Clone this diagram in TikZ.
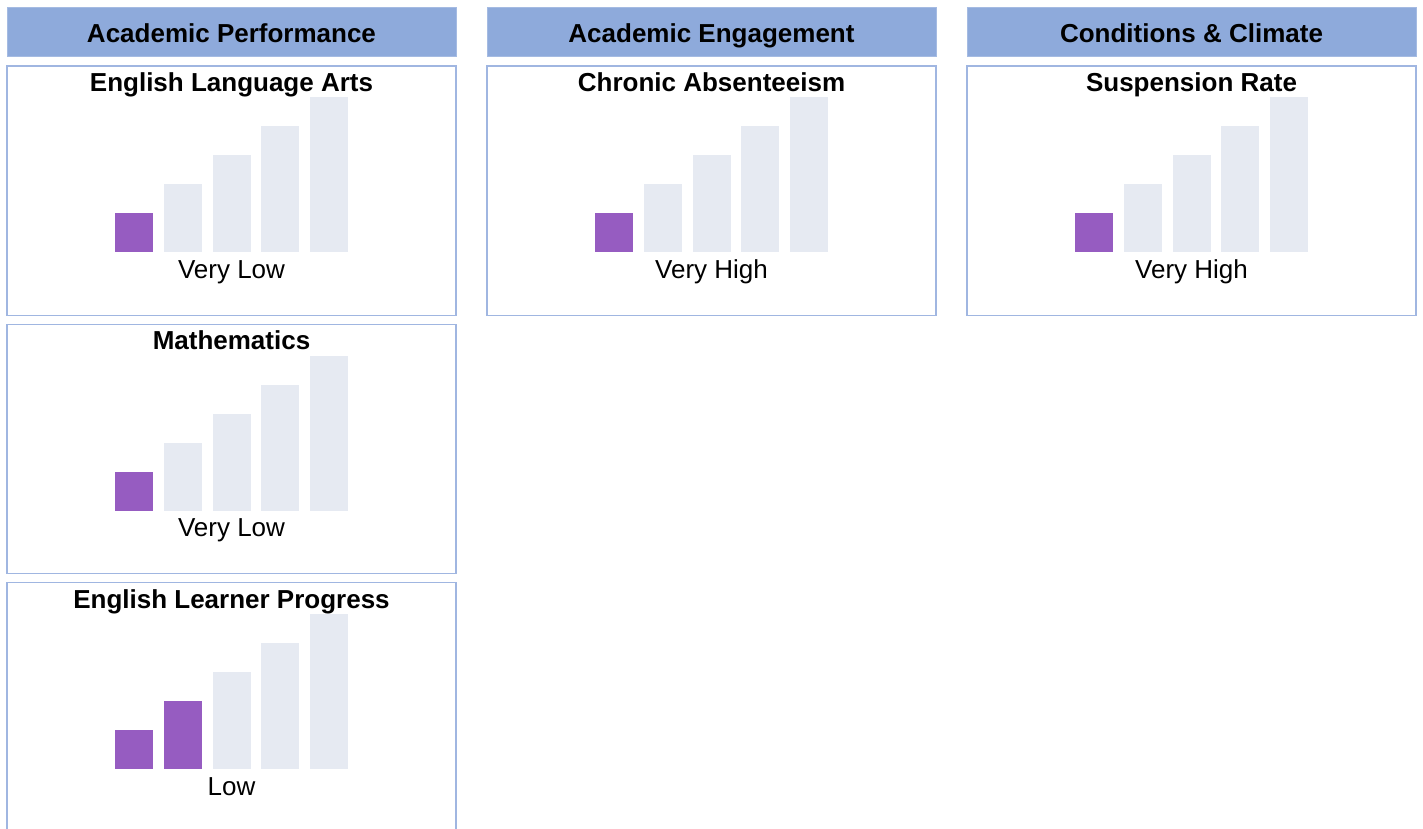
\documentclass[tikz,border=0pt]{standalone}
\usepackage{fontspec}
\setmainfont{Liberation Sans}
\usetikzlibrary{calc,positioning}
\definecolor{hdrblue}{HTML}{8EAADB}
\definecolor{edgeblue}{HTML}{A0B6E1}
\definecolor{lvlpurple}{HTML}{965CC1}
\definecolor{lvlgrey}{HTML}{E6EAF2}
\tikzset{
  header/.style={fill=hdrblue, draw=hdrblue!80, line width=1pt, minimum width=449pt,
    minimum height=49pt, inner sep=0pt, text height=21pt, text depth=0pt,
    font=\fontsize{26}{31}\selectfont\bfseries},
  panel/.style={draw=edgeblue, line width=1.3pt, minimum width=449pt,
    minimum height=249pt, inner sep=0pt},
  cardtitle/.style={font=\fontsize{26}{31}\selectfont\bfseries, inner sep=0pt, anchor=base},
  cardlevel/.style={font=\fontsize{26}{31}\selectfont, inner sep=0pt, anchor=base},
  levelbar/.style={draw=none, minimum width=38pt, inner sep=0pt, anchor=south},
}
% #1 name, #2 placement, #3 title, #4 filled bars, #5 level text
\newcommand{\scorecard}[5]{%
  \node[panel, #2] (#1) {};
  \node[cardtitle] (#1-title) at ($(#1.north)+(0,26)$) {#3};
  \foreach \i [evaluate=\i as \h using {39+29*(\i-1)}] in {1,...,5}{
    \ifnum\i>#4\relax\def\barcol{lvlgrey}\else\def\barcol{lvlpurple}\fi
    \node[levelbar, fill=\barcol, minimum height=\h pt] (#1-bar\i)
      at ($(#1.north)+({(\i-3)*48.75},187)$) {};
  }
  \node[cardlevel] (#1-level) at ($(#1.north)+(0,213)$) {#5};
}
\begin{document}
\begin{tikzpicture}[x=1pt,y=-1pt]
  \clip (0,0) rectangle (1423,829);
  %% Column headers
  \node[header] (perf) at (231.5,32.5) {Academic Performance};
  \node[header] (engage) at (711.5,32.5) {Academic Engagement};
  \node[header] (climate) at (1191.5,32.5) {Conditions \& Climate};
  %% Score cards
  \scorecard{ela}{below=8pt of perf}{English Language Arts}{1}{Very Low}
  \scorecard{math}{below=8pt of ela}{Mathematics}{1}{Very Low}
  \scorecard{elp}{below=8pt of math}{English Learner Progress}{2}{Low}
  \scorecard{absent}{below=8pt of engage}{Chronic Absenteeism}{1}{Very High}
  \scorecard{susp}{below=8pt of climate}{Suspension Rate}{1}{Very High}
\end{tikzpicture}
\end{document}
